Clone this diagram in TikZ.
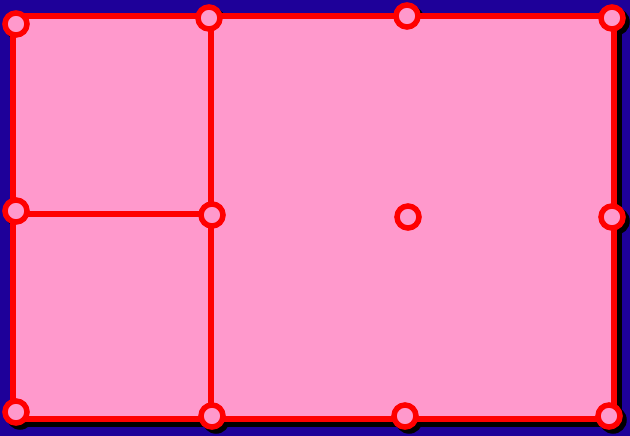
\documentclass[tikz,border=0pt]{standalone}
\definecolor{bg}{HTML}{1E0099}
\definecolor{pinkf}{HTML}{FF99CC}
\definecolor{redl}{HTML}{FF0000}
\begin{document}
\begin{tikzpicture}[x=1pt,y=-1pt,
  dot/.style={circle,draw=redl,fill=pinkf,line width=5.5pt,minimum size=22pt,inner sep=0pt},
  edgeline/.style={draw=redl,line width=5.5pt},
  shadowdot/.style={fill=black}]
\fill[bg] (0,0) rectangle (630,436);
\useasboundingbox (0,0) rectangle (630,436);
% shadows
\draw[black,fill=black,line width=5.5pt] (18,21) rectangle (619,424);
\foreach \x/\y in {16/24,209/18,407/16,612/18,16/211,212/215,408/217,612/217,16/412,212/416,405/416,609/416}
  \fill[shadowdot] (\x+4,\y+4) circle (13.75);
% main shape
\draw[edgeline,fill=pinkf] (13,16) rectangle (614,419);
\draw[edgeline] (211,16) -- (211,419);
\draw[edgeline] (13,214) -- (211,214);
% vertices
\node[dot] (c1) at (16,24) {};
\node[dot] (c2) at (209,18) {};
\node[dot] (c3) at (407,16) {};
\node[dot] (c4) at (612,18) {};
\node[dot] (c5) at (16,211) {};
\node[dot] (c6) at (212,215) {};
\node[dot] (c7) at (408,217) {};
\node[dot] (c8) at (612,217) {};
\node[dot] (c9) at (16,412) {};
\node[dot] (c10) at (212,416) {};
\node[dot] (c11) at (405,416) {};
\node[dot] (c12) at (609,416) {};
\end{tikzpicture}
\end{document}
